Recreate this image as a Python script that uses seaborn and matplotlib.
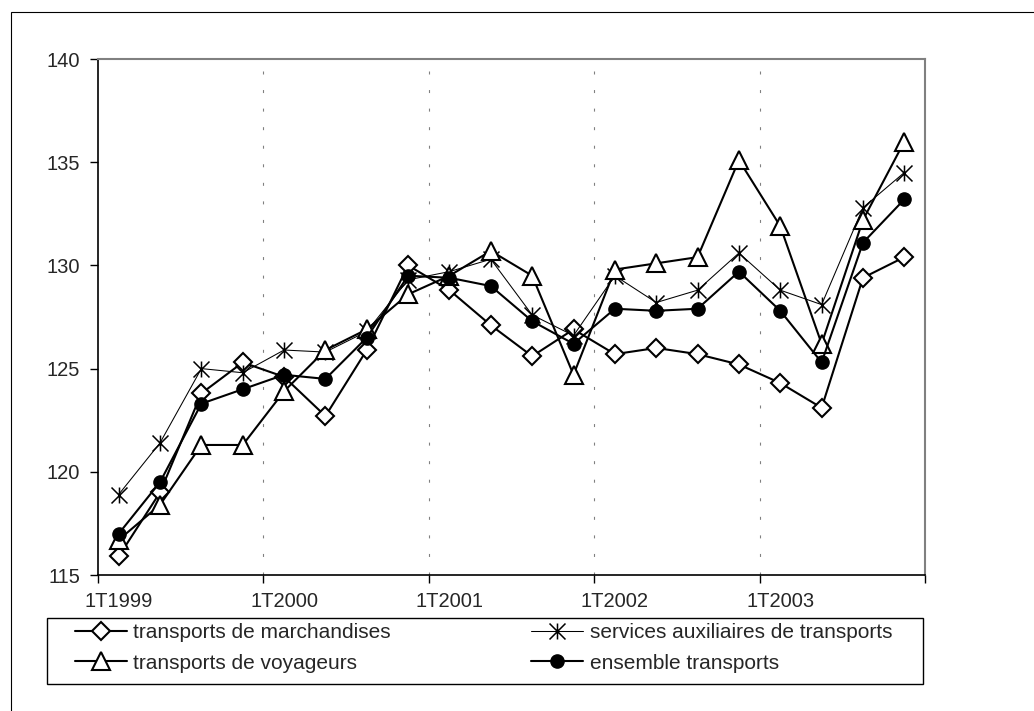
import matplotlib
matplotlib.use("Agg")
import matplotlib.pyplot as plt
from matplotlib.path import Path
from matplotlib.patches import Rectangle
from matplotlib.lines import Line2D
import numpy as np
import pandas as pd
import seaborn as sns

# Quarterly indices, 1T1999 .. 4T2003
quarters = [f"{q}T{y}" for y in range(1999, 2004) for q in range(1, 5)]
marchandises = [115.9, 119.0, 123.8, 125.3, 124.6, 122.7, 125.9, 130.0, 128.8, 127.1,
                125.6, 126.9, 125.7, 126.0, 125.7, 125.2, 124.3, 123.1, 129.4, 130.4]
services = [118.9, 121.4, 125.0, 124.8, 125.9, 125.8, 126.8, 129.3, 129.7, 130.3,
            127.6, 126.6, 129.5, 128.2, 128.8, 130.6, 128.8, 128.1, 132.8, 134.5]
voyageurs = [116.7, 118.4, 121.3, 121.3, 123.9, 125.9, 126.9, 128.6, 129.5, 130.7,
             129.5, 124.7, 129.8, 130.1, 130.4, 135.1, 131.9, 126.2, 132.2, 136.0]
ensemble = [117.0, 119.5, 123.3, 124.0, 124.7, 124.5, 126.5, 129.5, 129.4, 129.0,
            127.3, 126.2, 127.9, 127.8, 127.9, 129.7, 127.8, 125.3, 131.1, 133.2]
year_labels = ["1T1999", "1T2000", "1T2001", "1T2002", "1T2003"]

series_names = ["transports de marchandises", "services auxiliaires de transports",
                "transports de voyageurs", "ensemble transports"]
series_values = [marchandises, services, voyageurs, ensemble]

sns.set_style("white")
plt.rcParams["font.family"] = ["Liberation Sans", "DejaVu Sans"]
FS = 14.5
LEG_FS = 15

# star marker: vertical bar plus a cross
star = Path([(0, -1), (0, 1), (-1, -1), (1, 1), (-1, 1), (1, -1)],
            [Path.MOVETO, Path.LINETO, Path.MOVETO, Path.LINETO, Path.MOVETO, Path.LINETO])

styles = {
    "transports de marchandises": dict(marker="D", markersize=9, markerfacecolor="white", lw=1.5, mew=1.5),
    "services auxiliaires de transports": dict(marker=star, markersize=11.5, markerfacecolor="black", lw=0.75, mew=1.1),
    "transports de voyageurs": dict(marker="^", markersize=13, markerfacecolor="white", lw=1.5, mew=1.5),
    "ensemble transports": dict(marker="o", markersize=9.5, markerfacecolor="black", lw=1.5, mew=1.0),
}

x = np.arange(len(quarters)) + 0.5
df = pd.DataFrame({"x": np.tile(x, 4),
                   "valeur": np.concatenate(series_values),
                   "serie": np.repeat(series_names, len(quarters))})

W, H = 1034, 711
fig = plt.figure(figsize=(W / 100, H / 100), dpi=100)
ax = fig.add_axes([98 / W, 1 - 575 / H, (925 - 98) / W, (575 - 59) / H])

for z, name in enumerate(series_names):
    st = styles[name]
    sub = df[df["serie"] == name]
    sns.lineplot(data=sub, x="x", y="valeur", ax=ax, color="black", lw=st["lw"],
                 marker=st["marker"], markersize=st["markersize"],
                 markerfacecolor=st["markerfacecolor"], markeredgecolor="black",
                 markeredgewidth=st["mew"], legend=False, zorder=3 + z)

ax.set_xlim(0, 20)
ax.set_ylim(115, 140)
ax.set_yticks(np.arange(115, 141, 5))
ax.set_yticklabels([str(v) for v in range(115, 141, 5)], fontsize=FS)
ax.set_xticks(np.arange(0, 21, 4))
ax.set_xticklabels([])
ax.set_xticks(np.arange(0, 20, 4) + 0.5, minor=True)
ax.set_xticklabels(year_labels, minor=True, fontsize=FS)
ax.tick_params(axis="x", which="major", direction="out", length=6, width=1, color="black", bottom=True)
ax.tick_params(axis="x", which="minor", length=0, pad=12, bottom=True)
ax.tick_params(axis="y", direction="out", length=6, width=1, color="black", left=True, pad=7)
ax.set_xlabel("")
ax.set_ylabel("")

for xv in (4, 8, 12, 16):
    ax.axvline(xv, color="#808080", lw=0.8, linestyle=(0, (2.7, 14)), zorder=1)

for side in ("left", "bottom"):
    ax.spines[side].set_color("black")
    ax.spines[side].set_linewidth(1.2)
for side in ("top", "right"):
    ax.spines[side].set_color("#808080")
    ax.spines[side].set_linewidth(1.5)
    ax.spines[side].set_visible(True)

# legend: first column marchandises/voyageurs, second services/ensemble
order = [0, 2, 1, 3]
handles = []
for i in order:
    st = styles[series_names[i]]
    handles.append(Line2D([], [], color="black", lw=st["lw"], marker=st["marker"],
                          markersize=st["markersize"], markerfacecolor=st["markerfacecolor"],
                          markeredgecolor="black", markeredgewidth=st["mew"]))
labels = [series_names[i] for i in order]

# legend box
fig.add_artist(Rectangle((47 / W, 1 - 684 / H), (923 - 47) / W, (684 - 618) / H,
                         transform=fig.transFigure, fill=False, ec="black", lw=1.0))
lx0, lx1 = 75 / W, 892 / W
ly0, ly1 = 1 - 678 / H, 1 - 618 / H
leg = fig.legend(handles, labels, loc="center", bbox_to_anchor=(lx0, ly0, lx1 - lx0, ly1 - ly0),
                 mode="expand", ncol=2, fontsize=LEG_FS, frameon=False,
                 handlelength=2.5, handletextpad=0.3,
                 borderpad=0, labelspacing=0.55, borderaxespad=0, columnspacing=1.0)

# outer chart frame
fig.add_artist(Rectangle((11 / W, -0.1), 1.2, (H - 12) / H + 0.1,
                         transform=fig.transFigure, fill=False, ec="black", lw=0.8))

fig.savefig("out.png", dpi=100)
